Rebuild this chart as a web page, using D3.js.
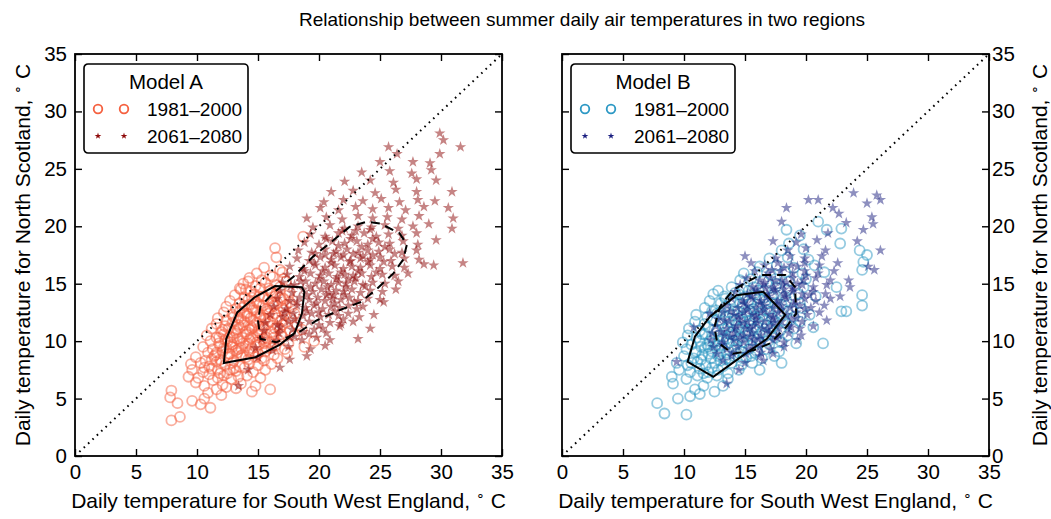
<!DOCTYPE html>
<html lang="en">
<head>
<meta charset="UTF-8">
<title>Summer daily air temperatures in two regions</title>
<script src="https://cdn.jsdelivr.net/npm/d3@7"></script>
<style>
  body { margin: 0; background: #fff; }
  svg { display: block; font-family: "Liberation Sans", Arial, sans-serif; }
  text { white-space: pre; }
</style>
</head>
<body>
<svg id="chart" width="1051" height="519"></svg>
<script>
// axis ticks, periods and model names
const ticks = [0, 5, 10, 15, 20, 25, 30, 35];
const periods = ["1981\u20132000", "2061\u20132080"];
const models = ["Model A", "Model B"];

// daily temps [South West England, North Scotland] in deg C
const circlesA = [
  [7.9,3.1],[8.6,3.4],[11.1,4.2],[8.4,4.6],[10.3,4.5],[9.6,4.8],[7.8,5.1],[10.6,5.0],[12.0,5.3],[7.9,5.7],[10.9,5.5],[11.6,5.8],[14.5,5.6],[12.4,6.0],[13.2,5.9],[16.0,5.8],
  [9.9,6.4],[10.6,6.1],[11.3,6.6],[12.1,6.2],[12.8,6.7],[13.6,6.3],[14.8,6.1],
  [9.3,6.9],[10.1,6.8],[11.0,7.1],[11.7,6.8],[12.5,7.2],[13.4,6.9],[14.1,7.0],[15.2,6.8],
  [9.6,7.5],[10.5,7.3],[11.2,7.6],[11.9,7.2],[12.7,7.5],[13.2,7.4],[13.9,7.7],[14.6,7.3],[15.6,7.5],
  [9.5,8.0],[10.3,8.1],[11.0,7.8],[11.6,8.2],[12.3,7.9],[12.9,8.1],[13.5,7.8],[14.3,8.1],[15.0,7.9],[16.1,8.0],
  [9.9,8.6],[10.7,8.3],[11.4,8.7],[11.9,8.4],[12.5,8.6],[13.0,8.3],[13.6,8.7],[14.2,8.4],[14.8,8.6],[15.5,8.3],[16.6,8.5],
  [10.9,9.0],[11.5,8.8],[12.1,9.1],[12.7,8.9],[13.2,9.2],[13.7,8.8],[14.3,9.1],[15.0,8.9],[15.6,9.1],[16.3,8.8],[17.4,9.0],
  [10.5,9.5],[11.3,9.3],[11.9,9.6],[12.4,9.4],[12.9,9.7],[13.4,9.3],[14.0,9.6],[14.5,9.4],[15.1,9.7],[15.7,9.4],[16.4,9.6],[17.2,9.3],[18.8,9.5],
  [11.1,10.0],[11.8,9.8],[12.3,10.1],[12.8,9.9],[13.3,10.2],[13.8,9.8],[14.3,10.1],[14.9,9.9],[15.4,10.2],[16.0,9.9],[16.7,10.1],[17.5,9.8],[19.6,10.0],
  [10.8,10.5],[11.6,10.3],[12.2,10.6],[12.7,10.4],[13.2,10.7],[13.7,10.3],[14.1,10.6],[14.6,10.4],[15.2,10.7],[15.7,10.3],[16.3,10.6],[17.0,10.4],[18.0,10.5],
  [11.2,11.1],[12.0,10.8],[12.6,11.1],[13.1,10.9],[13.5,11.2],[14.0,10.8],[14.5,11.1],[15.0,10.9],[15.5,11.2],[16.1,10.8],[16.8,11.1],[17.6,10.9],[18.6,11.0],
  [11.6,11.5],[12.3,11.3],[12.9,11.6],[13.4,11.4],[13.9,11.7],[14.4,11.3],[14.9,11.6],[15.4,11.4],[16.0,11.7],[16.6,11.3],[17.3,11.6],[18.2,11.4],
  [11.7,12.0],[12.4,11.8],[13.0,12.1],[13.6,11.9],[14.1,12.2],[14.6,11.8],[15.1,12.1],[15.6,11.9],[16.2,12.2],[16.9,11.8],[17.7,12.0],
  [12.2,12.5],[12.9,12.3],[13.5,12.6],[14.1,12.4],[14.6,12.7],[15.2,12.3],[15.8,12.6],[16.4,12.4],[17.1,12.7],[18.0,12.4],
  [12.4,13.0],[13.2,12.8],[13.9,13.1],[14.5,12.9],[15.1,13.2],[15.7,12.8],[16.3,13.1],[17.0,12.9],[17.8,13.0],
  [12.7,13.5],[13.5,13.3],[14.2,13.6],[14.9,13.4],[15.5,13.7],[16.2,13.3],[16.9,13.6],[17.6,13.4],
  [13.1,14.0],[13.9,13.8],[14.7,14.1],[15.4,13.9],[16.1,14.2],[16.8,13.8],[17.5,14.0],
  [13.6,14.5],[14.4,14.3],[15.2,14.6],[16.0,14.4],[16.8,14.7],[17.6,14.3],
  [13.8,15.0],[14.8,14.8],[15.6,15.1],[16.5,14.9],[17.3,15.2],[13.5,14.6],[14.2,15.2],
  [14.3,15.5],[15.3,15.3],[16.2,15.6],[17.1,15.4],
  [14.9,15.9],[16.0,15.7],[17.0,16.0],[15.5,16.4],[16.8,16.2],[16.5,17.3],[16.4,18.1],[18.7,19.1],
  [12.6,8.9],[13.3,9.0],[14.0,8.6],[14.6,8.9],[15.3,8.5],[12.9,9.5],[13.6,9.4],[14.2,9.8],[14.8,9.5],[15.5,9.8],[16.1,9.4],
  [13.0,10.3],[13.5,10.0],[14.4,10.3],[15.0,10.5],[15.6,10.0],[16.3,10.3],[16.9,10.6],[13.3,11.0],[13.8,11.4],[14.3,11.0],
  [14.7,11.4],[15.3,11.0],[15.8,11.5],[16.4,11.1],[17.0,11.4],[13.4,12.0],[13.9,12.4],[14.4,12.0],[14.9,12.5],[15.5,12.0],
  [15.9,12.4],[16.6,12.0],[17.2,12.3],[13.7,12.9],[14.3,13.2],[14.8,12.7],[15.4,13.1],[16.0,12.9],[16.6,13.3],[17.3,13.1],
  [14.5,13.8],[15.1,13.9],[15.8,13.6],[16.4,13.9],[17.1,13.7],[12.1,11.0],[11.8,10.3],[12.2,9.4],[11.6,9.0],[12.5,10.0],
  [15.9,14.6],[14.0,14.5],[16.5,14.2],[12.0,8.1],[11.2,8.4],[10.6,7.7],[11.7,7.5],[12.2,7.0],[13.0,7.6]
];
const starsA = [
  [13.4,6.1],[14.2,7.5],[16.8,7.7],[15.0,8.6],[17.6,8.4],[19.0,8.7],
  [14.8,9.4],[16.2,9.2],[17.5,9.5],[19.3,9.3],[20.5,9.6],
  [15.3,10.2],[16.5,10.0],[17.6,10.3],[18.6,10.1],[19.8,10.3],[20.9,10.1],[23.2,10.2],
  [15.5,10.9],[16.7,10.7],[17.8,11.0],[18.7,10.8],[19.6,11.0],[20.6,10.7],[21.7,11.3],[24.2,11.1],
  [15.6,11.6],[16.6,11.4],[17.5,11.7],[18.4,11.5],[19.2,11.7],[20.0,11.4],[20.9,11.6],[21.8,11.5],[22.8,11.7],
  [16.0,12.3],[17.0,12.1],[17.9,12.4],[18.7,12.2],[19.4,12.4],[20.1,12.1],[20.8,12.3],[21.6,12.2],[22.4,12.4],[23.3,12.1],[24.5,12.3],
  [16.3,13.0],[17.3,12.8],[18.2,13.1],[18.9,12.9],[19.6,13.1],[20.3,12.8],[21.0,13.0],[21.7,12.9],[22.4,13.1],[23.1,12.8],[23.6,13.0],[25.3,13.4],
  [16.6,13.7],[17.6,13.5],[18.4,13.8],[19.2,13.6],[19.9,13.8],[20.5,13.5],[21.1,13.7],[21.8,13.6],[22.5,13.8],[23.2,13.5],[24.0,13.7],[25.0,13.6],
  [16.8,14.4],[17.8,14.2],[18.7,14.5],[19.5,14.3],[20.2,14.5],[20.8,14.2],[21.4,14.4],[22.0,14.3],[22.7,14.5],[23.4,14.2],[24.2,14.4],[25.2,14.3],[26.3,14.5],
  [17.0,15.1],[18.0,14.9],[18.9,15.2],[19.7,15.0],[20.4,15.2],[21.0,14.9],[21.6,15.1],[22.2,15.0],[22.9,15.2],[23.6,14.9],[24.4,15.1],[25.4,15.0],[26.5,15.2],
  [17.4,15.8],[18.4,15.6],[19.3,15.9],[20.1,15.7],[20.8,15.9],[21.5,15.6],[22.1,15.8],[22.8,15.7],[23.5,15.9],[24.3,15.6],[25.2,15.8],[26.2,15.7],[27.3,15.9],
  [17.6,16.5],[18.7,16.3],[19.7,16.6],[20.5,16.4],[21.3,16.6],[22.0,16.3],[22.7,16.5],[23.4,16.4],[24.2,16.6],[25.0,16.3],[26.0,16.5],[27.0,16.4],[28.6,16.7],[29.4,16.6],
  [18.2,17.2],[19.2,17.0],[20.1,17.3],[21.0,17.1],[21.8,17.3],[22.6,17.0],[23.4,17.2],[24.2,17.1],[25.0,17.3],[25.9,17.0],[27.0,17.2],[28.2,17.1],[31.8,16.8],
  [18.3,17.9],[19.4,17.7],[20.5,18.0],[21.4,17.8],[22.3,18.0],[23.2,17.7],[24.0,17.9],[24.9,17.8],[25.8,18.0],[26.8,17.7],[28.0,17.9],
  [18.8,18.6],[20.0,18.4],[21.1,18.7],[22.1,18.5],[23.1,18.7],[24.0,18.4],[24.9,18.6],[25.8,18.5],[26.9,18.7],[28.1,18.4],[29.6,18.8],
  [19.3,19.3],[20.5,19.1],[21.6,19.4],[22.7,19.2],[23.7,19.4],[24.7,19.1],[25.7,19.3],[26.8,19.2],[28.0,19.4],[30.9,19.8],
  [19.5,19.9],[20.9,20.1],[22.1,19.8],[23.2,20.0],[24.3,19.9],[25.4,20.1],[26.5,19.8],[27.7,20.0],[29.0,20.2],
  [19.0,20.7],[20.6,20.8],[21.9,20.6],[23.2,20.9],[24.4,20.7],[25.6,20.8],[26.8,20.6],[28.2,20.9],[31.0,20.7],
  [20.1,21.6],[21.6,21.4],[23.0,21.7],[24.4,21.5],[25.7,21.6],[27.1,21.4],[28.6,21.7],[30.6,21.6],
  [20.4,22.1],[22.0,22.3],[23.6,22.2],[25.1,22.4],[26.6,22.1],[28.1,22.3],[29.5,22.2],
  [21.0,23.0],[22.8,23.1],[24.6,22.9],[26.3,23.2],[28.0,23.0],[30.9,23.0],
  [22.1,23.9],[24.2,24.0],[26.1,23.8],[28.0,24.1],[29.6,24.0],
  [23.5,24.7],[25.8,24.8],[27.6,24.6],[29.2,24.9],
  [25.0,25.6],[27.7,25.6],[29.1,25.5],[26.4,26.3],[29.9,26.3],[25.7,26.9],[31.6,26.9],[30.2,27.5],[29.9,28.1],
  [18.2,13.4],[19.0,14.0],[19.8,13.3],[20.6,14.0],[21.3,13.3],[22.1,14.0],[22.9,13.4],[18.5,15.2],[19.3,14.7],[20.0,15.4],
  [20.7,14.7],[21.4,15.4],[22.2,14.7],[23.0,15.5],[23.8,14.8],[18.8,16.1],[19.6,16.8],[20.3,16.1],[21.0,16.8],[21.8,16.0],
  [22.5,16.9],[23.2,16.1],[24.0,16.9],[24.7,16.0],[19.7,17.6],[20.5,17.5],[21.2,17.6],[22.0,17.5],[22.8,17.6],[23.6,17.4],
  [24.4,17.5],[20.6,18.9],[21.6,18.3],[22.6,18.9],[23.5,18.2],[24.4,18.9],[25.4,18.2],[17.2,12.5],[18.0,11.9],[19.0,12.6],
  [20.0,12.5],[21.3,12.6],[22.0,11.9],[16.8,11.2],[18.0,10.4],[19.2,10.6],[20.3,11.1],[21.2,14.0],[22.4,15.4],[17.7,14.8],
  [21.9,19.6],[23.0,19.6],[24.2,19.7],[25.3,16.9],[26.2,17.6]
];
const circlesB = [
  [8.4,3.7],[10.2,3.6],[7.8,4.6],[9.5,5.0],[10.5,5.2],[11.3,5.4],[10.9,5.8],[12.5,5.6],[9.1,6.3],[11.6,6.1],[13.2,6.1],
  [9.0,6.9],[10.2,6.7],[11.1,7.0],[11.9,6.8],[12.7,7.0],[13.6,6.7],
  [9.6,7.5],[10.5,7.3],[11.3,7.6],[12.0,7.3],[12.8,7.5],[13.6,7.2],[14.5,7.5],[16.2,7.5],
  [9.4,8.1],[10.3,7.9],[11.1,8.2],[11.8,7.9],[12.5,8.1],[13.2,7.8],[13.9,8.1],[14.7,7.9],[15.6,8.1],[18.0,8.1],
  [10.0,8.7],[10.8,8.5],[11.5,8.8],[12.2,8.5],[12.8,8.7],[13.4,8.4],[14.1,8.7],[14.8,8.5],[15.5,8.7],[16.4,8.5],[17.4,8.7],
  [10.2,9.3],[11.0,9.1],[11.7,9.4],[12.3,9.1],[12.9,9.3],[13.5,9.0],[14.1,9.3],[14.7,9.1],[15.3,9.3],[16.0,9.1],[16.8,9.3],[17.8,9.1],
  [9.9,9.9],[10.6,9.7],[11.3,10.0],[11.9,9.7],[12.5,9.9],[13.1,9.6],[13.7,9.9],[14.3,9.7],[14.9,9.9],[15.5,9.6],[16.2,9.9],[17.0,9.7],[18.0,9.9],[19.2,9.8],[21.4,9.8],
  [10.3,10.5],[11.0,10.3],[11.7,10.6],[12.3,10.3],[12.9,10.5],[13.5,10.2],[14.1,10.5],[14.7,10.3],[15.3,10.5],[16.0,10.2],[16.7,10.5],[17.5,10.3],[18.5,10.5],
  [10.4,11.1],[11.3,10.9],[12.0,11.2],[12.7,10.9],[13.3,11.1],[13.9,10.8],[14.5,11.1],[15.1,10.9],[15.7,11.1],[16.4,10.8],[17.1,11.1],[17.9,10.9],[19.0,11.1],[20.6,11.2],
  [10.9,11.7],[11.7,11.5],[12.4,11.8],[13.1,11.5],[13.7,11.7],[14.3,11.4],[14.9,11.7],[15.5,11.5],[16.1,11.7],[16.8,11.4],[17.5,11.7],[18.4,11.5],[19.5,11.7],
  [11.0,12.3],[11.9,12.1],[12.7,12.4],[13.4,12.1],[14.0,12.3],[14.6,12.0],[15.2,12.3],[15.8,12.1],[16.5,12.3],[17.2,12.0],[18.0,12.3],[19.0,12.1],[20.3,12.3],[22.9,12.6],
  [11.7,12.9],[12.6,12.7],[13.4,13.0],[14.1,12.7],[14.8,12.9],[15.4,12.6],[16.1,12.9],[16.8,12.7],[17.6,12.9],[18.5,12.6],[19.6,12.9],[23.3,12.6],
  [12.1,13.5],[13.0,13.3],[13.8,13.6],[14.6,13.3],[15.3,13.5],[16.0,13.2],[16.7,13.5],[17.5,13.3],[18.4,13.5],[19.5,13.3],[24.6,13.1],
  [12.4,14.1],[13.3,13.9],[14.2,14.2],[15.0,13.9],[15.8,14.1],[16.6,13.8],[17.4,14.1],[18.3,13.9],[19.4,14.1],[20.8,13.9],[24.6,14.0],
  [12.8,14.4],[13.9,14.7],[14.8,14.5],[15.7,14.7],[16.6,14.4],[17.5,14.7],[18.5,14.5],[19.8,14.7],[22.5,14.7],
  [14.6,15.3],[15.5,15.4],[16.5,15.2],[17.5,15.4],[18.6,15.2],[20.0,15.4],
  [14.9,15.9],[16.0,16.0],[17.1,15.8],[18.3,16.0],[19.7,15.9],[21.5,16.0],
  [16.2,16.5],[17.6,16.6],[19.0,16.4],[20.7,16.6],[24.6,16.2],[24.7,16.9],
  [17.0,17.2],[18.5,17.3],[20.2,17.1],[25.0,17.5],[18.0,17.9],[19.8,18.0],[24.4,17.9],
  [18.6,18.5],[22.8,18.5],[19.5,19.2],[18.4,19.7],[21.7,19.7],[22.9,19.8],[21.0,20.4],
  [11.4,8.4],[12.0,8.9],[12.6,9.6],[13.2,10.1],[13.8,10.6],[14.4,10.1],[15.0,10.7],[15.6,10.1],[16.2,10.6],[12.1,10.0],
  [11.4,9.5],[12.5,11.0],[13.0,11.8],[13.6,11.2],[14.2,11.8],[14.8,11.2],[15.4,11.8],[16.0,11.2],[16.6,11.9],[17.3,11.3],
  [12.3,12.6],[13.0,12.5],[13.7,12.5],[14.4,12.6],[15.1,12.5],[15.7,12.8],[16.3,12.5],[17.0,12.5],[13.4,13.7],[14.1,13.4],
  [14.8,13.7],[15.5,13.3],[16.2,13.7],[16.9,13.3],[17.2,13.8],[14.5,14.1],[15.3,14.4],[16.1,14.4],[12.0,9.5],[13.0,8.9],
  [13.7,8.5],[14.4,9.0],[15.1,8.6],[15.8,9.0],[11.5,10.6],[12.9,10.0],[14.0,10.0],[10.9,9.0],[10.6,8.1],[11.6,7.2],
  [12.3,7.7],[13.0,8.3],[16.9,10.0],[17.4,10.8],[18.1,11.8],[18.9,12.7],[18.0,13.2],[17.6,15.0]
];
const starsB = [
  [13.5,6.3],[14.5,7.5],[9.4,8.2],[13.2,8.3],[15.0,8.1],[16.5,8.3],
  [12.7,8.9],[13.9,8.7],[15.1,8.9],[16.2,8.7],[17.3,8.9],
  [12.4,9.5],[13.5,9.3],[14.4,9.5],[15.3,9.3],[16.2,9.5],[17.1,9.3],[18.2,9.5],
  [12.2,10.1],[13.2,9.9],[14.1,10.1],[14.9,9.9],[15.7,10.1],[16.5,9.9],[17.3,10.1],[18.2,9.9],[19.3,10.1],
  [12.3,10.7],[13.3,10.5],[14.1,10.7],[14.9,10.5],[15.6,10.7],[16.3,10.5],[17.0,10.7],[17.8,10.5],[18.6,10.7],[19.6,10.5],
  [10.8,11.2],[12.6,11.3],[13.5,11.1],[14.3,11.3],[15.0,11.1],[15.7,11.3],[16.4,11.1],[17.1,11.3],[17.8,11.1],[18.6,11.3],[19.5,11.1],[20.6,11.3],
  [12.8,11.9],[13.7,11.7],[14.5,11.9],[15.2,11.7],[15.9,11.9],[16.6,11.7],[17.3,11.9],[18.0,11.7],[18.8,11.9],[19.7,11.7],[21.7,11.8],
  [12.1,12.4],[13.2,12.5],[14.1,12.3],[14.9,12.5],[15.6,12.3],[16.3,12.5],[17.0,12.3],[17.7,12.5],[18.4,12.3],[19.2,12.5],[20.1,12.3],[21.1,12.5],
  [13.5,13.1],[14.4,12.9],[15.2,13.1],[15.9,12.9],[16.6,13.1],[17.3,12.9],[18.0,13.1],[18.7,12.9],[19.5,13.1],[20.4,12.9],[21.5,13.1],
  [13.9,13.7],[14.8,13.5],[15.6,13.7],[16.3,13.5],[17.0,13.7],[17.7,13.5],[18.4,13.7],[19.1,13.5],[19.9,13.7],[20.8,13.5],[22.0,13.7],
  [14.2,14.3],[15.2,14.1],[16.0,14.3],[16.8,14.1],[17.5,14.3],[18.2,14.1],[18.9,14.3],[19.7,14.1],[20.6,14.3],[21.6,14.1],[22.8,13.9],
  [14.6,14.9],[15.6,14.7],[16.5,14.9],[17.3,14.7],[18.1,14.9],[18.9,14.7],[19.7,14.9],[20.6,14.7],[21.7,14.9],[23.6,14.7],
  [15.1,15.5],[16.2,15.3],[17.1,15.5],[18.0,15.3],[18.9,15.5],[19.8,15.3],[20.8,15.5],[22.0,15.3],[23.5,15.3],
  [15.8,16.1],[16.9,15.9],[17.9,16.1],[18.9,15.9],[19.9,16.1],[21.0,15.9],[22.3,16.1],[25.6,16.2],
  [15.5,16.8],[16.6,16.6],[17.7,16.8],[18.8,16.6],[19.9,16.8],[21.1,16.6],[22.6,16.8],[25.1,16.5],
  [15.0,17.4],[17.5,17.2],[18.7,17.4],[19.9,17.2],[21.3,17.4],
  [18.5,17.9],[20.0,18.1],[21.6,17.9],[26.1,17.9],
  [17.3,18.7],[19.2,18.6],[20.9,18.8],[24.2,18.7],
  [19.6,19.3],[21.8,19.4],[24.7,19.7],
  [18.0,20.4],[23.3,20.3],[25.5,20.2],[22.7,21.1],[25.4,20.8],[18.4,21.6],[22.2,21.6],
  [20.2,22.3],[21.0,22.3],[26.1,22.3],[23.9,22.9],[25.8,22.7],[25.0,22.0],
  [14.2,11.1],[14.8,11.6],[15.4,11.1],[16.0,11.6],[16.8,11.0],[17.4,11.6],[14.5,12.2],[15.2,12.7],[15.9,12.2],[16.6,12.7],
  [17.3,12.1],[18.0,12.7],[14.9,13.3],[15.5,13.9],[16.2,13.3],[16.9,13.9],[17.6,13.3],[18.3,13.9],[19.0,13.2],[15.9,14.5],
  [16.7,14.6],[17.4,14.5],[18.2,14.5],[19.0,14.5],[16.6,15.1],[17.5,15.2],[18.4,15.1],[19.3,15.0],[13.8,12.6],[13.3,11.8],
  [13.0,10.8],[13.8,10.4],[14.6,10.3],[15.4,10.4],[16.1,10.2],[17.6,10.3],[18.8,11.2],[19.2,12.0],[19.9,12.8],[20.3,14.0],
  [20.0,15.7],[17.2,16.2],[18.2,16.4],[19.3,16.5],[16.3,9.0],[14.0,9.0],[15.6,9.6],[13.1,9.7]
];

// density contours (solid = 1981-2000, dashed = 2061-2080)
const contourA1 = [[12.2,8.1],[12.4,10.2],[13.3,12.5],[14.7,13.8],[16.4,14.8],[18.6,14.7],[18.8,14.3],[18.6,12.4],[18.0,10.7],[16.8,9.7],[14.8,8.6]];
const contourA2 = [[15.0,11.8],[15.2,10.2],[16.5,9.9],[18.4,10.8],[19.8,11.8],[21.7,12.7],[23.4,13.4],[24.7,14.5],[26.1,15.9],[26.9,17.1],[27.2,18.4],[26.6,19.4],[25.0,20.25],[23.9,20.4],[22.5,19.95],[21.2,18.8],[19.5,17.35],[17.9,15.6],[16.25,14.2],[15.2,13.0]];
const contourB1 = [[10.3,8.2],[10.9,10.4],[12.1,12.1],[14.3,14.0],[16.5,14.3],[18.3,12.3],[16.8,10.2],[14.9,8.8],[12.4,6.9]];
const contourB2 = [[12.5,11.25],[12.95,13.0],[14.0,14.45],[16.2,15.75],[18.3,15.75],[19.1,14.7],[19.2,12.4],[18.4,11.25],[17.05,9.8],[15.7,9.2],[14.0,8.9],[12.7,9.95]];

const panels = [
  { model: models[0], left: 75, circles: circlesA, stars: starsA, cLine: contourA1, fLine: contourA2,
    cColor: "#f5603f", sColor: "#8e0a0a", labelSide: "left" },
  { model: models[1], left: 562, circles: circlesB, stars: starsB, cLine: contourB1, fLine: contourB2,
    cColor: "#2c98c4", sColor: "#1b1f80", labelSide: "right" }
];

const W = 427, H = 402, panelTop = 54;
const svg = d3.select("#chart");

const x = d3.scaleLinear().domain([0, 35]).range([0, W]);
const y = d3.scaleLinear().domain([0, 35]).range([H, 0]);
const line = d3.line().x(d => x(d[0])).y(d => y(d[1])).curve(d3.curveLinearClosed);
const star = d3.symbol().type(d3.symbolStar).size(40);
const starSmall = d3.symbol().type(d3.symbolStar).size(14);

svg.append("text")
  .attr("x", 582).attr("y", 26)
  .attr("text-anchor", "middle")
  .attr("font-size", 19)
  .text("Relationship between summer daily air temperatures in two regions");

function degLabel(sel, txt) {
  sel.append("tspan").text(txt + ", ");
  sel.append("tspan").attr("font-size", 14).attr("dy", -8).text("\u2218");
  sel.append("tspan").attr("dy", 8).text(" C");
}

panels.forEach(p => {
  const g = svg.append("g").attr("transform", `translate(${p.left},${panelTop})`);

  // points
  g.append("g").selectAll("circle")
    .data(p.circles)
    .join("circle")
    .attr("cx", d => x(d[0]))
    .attr("cy", d => y(d[1]))
    .attr("r", 5)
    .attr("fill", "none")
    .attr("stroke", p.cColor)
    .attr("stroke-width", 1.8)
    .attr("stroke-opacity", 0.5);

  g.append("g").selectAll("path")
    .data(p.stars)
    .join("path")
    .attr("transform", d => `translate(${x(d[0])},${y(d[1])})`)
    .attr("d", star)
    .attr("fill", p.sColor)
    .attr("fill-opacity", 0.5);

  // 1:1 line
  g.append("line")
    .attr("x1", x(0)).attr("y1", y(0))
    .attr("x2", x(35)).attr("y2", y(35))
    .attr("stroke", "#000")
    .attr("stroke-width", 2)
    .attr("stroke-dasharray", "1.6 4.4");

  // contours
  g.append("path").attr("d", line(p.cLine))
    .attr("fill", "none").attr("stroke", "#000").attr("stroke-width", 2);
  g.append("path").attr("d", line(p.fLine))
    .attr("fill", "none").attr("stroke", "#000").attr("stroke-width", 2)
    .attr("stroke-dasharray", "9 6");

  // axes, ticks pointing inwards on every side
  const bottom = d3.axisBottom(x).tickValues(ticks).tickSizeInner(-7).tickSizeOuter(0).tickPadding(8);
  const topAx = d3.axisTop(x).tickValues(ticks).tickSizeInner(-7).tickSizeOuter(0).tickFormat("");
  const leftAx = d3.axisLeft(y).tickValues(ticks).tickSizeInner(-7).tickSizeOuter(0).tickPadding(8);
  const rightAx = d3.axisRight(y).tickValues(ticks).tickSizeInner(-7).tickSizeOuter(0).tickPadding(3);
  if (p.labelSide === "left") rightAx.tickFormat("");
  else leftAx.tickFormat("");

  const axes = [
    g.append("g").attr("transform", `translate(0,${H})`).call(bottom),
    g.append("g").call(topAx),
    g.append("g").call(leftAx),
    g.append("g").attr("transform", `translate(${W},0)`).call(rightAx)
  ];
  axes.forEach(a => {
    a.select(".domain").remove();
    a.selectAll(".tick line").attr("stroke", "#000").attr("stroke-width", 1.4);
    a.selectAll(".tick text").attr("fill", "#000").attr("font-size", 20.5)
      .attr("font-family", "Liberation Sans, Arial, sans-serif");
  });

  g.append("rect")
    .attr("width", W).attr("height", H)
    .attr("fill", "none").attr("stroke", "#000").attr("stroke-width", 1.8);

  // axis labels
  const xl = g.append("text")
    .attr("x", W / 2).attr("y", 508 - panelTop)
    .attr("text-anchor", "middle").attr("font-size", 21);
  degLabel(xl, "Daily temperature for South West England");

  const yx = p.labelSide === "left" ? 30 - p.left : 1047 - p.left;
  const yl = g.append("text")
    .attr("transform", `translate(${yx},${H / 2}) rotate(-90)`)
    .attr("text-anchor", "middle").attr("font-size", 21);
  degLabel(yl, "Daily temperature for North Scotland");

  // legend
  const lg = g.append("g").attr("transform", "translate(9,10)");
  lg.append("rect")
    .attr("width", 164).attr("height", 89).attr("rx", 4)
    .attr("fill", "#fff").attr("stroke", "#000").attr("stroke-width", 1.6);
  lg.append("text")
    .attr("x", 82).attr("y", 25)
    .attr("text-anchor", "middle").attr("font-size", 20.5)
    .text(p.model);
  periods.forEach((per, i) => {
    const ry = 45 + i * 27;
    [14, 40].forEach(mx => {
      if (i === 0) {
        lg.append("circle").attr("cx", mx).attr("cy", ry).attr("r", 4.3)
          .attr("fill", "none").attr("stroke", p.cColor).attr("stroke-width", 1.8);
      } else {
        lg.append("path").attr("transform", `translate(${mx},${ry})`)
          .attr("d", starSmall).attr("fill", p.sColor);
      }
    });
    lg.append("text")
      .attr("x", 63).attr("y", ry + 7)
      .attr("font-size", 19)
      .text(per);
  });
});
</script>
</body>
</html>
